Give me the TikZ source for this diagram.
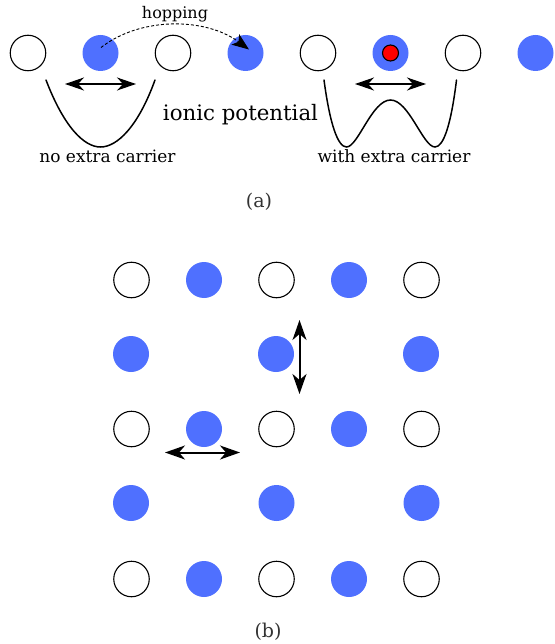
\documentclass[tikz,border=0pt]{standalone}
\usepackage{fontspec}
\setmainfont{DejaVu Serif}
\usetikzlibrary{arrows.meta}
\definecolor{siteblue}{HTML}{4F70FF}
\definecolor{capgray}{HTML}{333333}
\tikzset{
  x=1pt,y=-1pt,
  opensite/.style={circle,draw=black,line width=1.1pt,fill=white,minimum size=35.5pt,inner sep=0pt},
  bluesite/.style={circle,fill=siteblue,minimum size=36pt,inner sep=0pt},
  carrier/.style={circle,draw=black,line width=1.1pt,fill=red,minimum size=16pt,inner sep=0pt},
  dbl/.style={line width=1.2pt,{Stealth[length=19pt,width=13pt,inset=6pt]}-{Stealth[length=19pt,width=13pt,inset=6pt]}},
  dblbold/.style={line width=2pt,{Stealth[length=20pt,width=14pt,inset=6pt]}-{Stealth[length=20pt,width=14pt,inset=6pt]}},
  well/.style={line width=1.5pt,line cap=round},
  lbl/.style={inner sep=0pt,font=\fontsize{17}{19}\selectfont},
  captext/.style={inner sep=0pt,text=capgray,font=\fontsize{19}{22}\selectfont}
}
\begin{document}
\begin{tikzpicture}
\useasboundingbox (0,0) rectangle (554,644);
% chain (a)
\node[opensite] (a1) at (28,53) {};
\node[bluesite] (a2) at (100.5,53) {};
\node[opensite] (a3) at (173,53) {};
\node[bluesite] (a4) at (245.5,53) {};
\node[opensite] (a5) at (318,53) {};
\node[bluesite] (a6) at (390.5,53) {};
\node[carrier] (c) at (390.5,53) {};
\node[opensite] (a7) at (463,53) {};
\node[bluesite] (a8) at (535.5,53) {};
% hopping
\coordinate (hs) at (101,47.5);
\coordinate (he) at (249,49.5);
\draw[densely dashed,line width=0.9pt,-{Stealth[length=17pt,width=13pt,inset=4pt]}] (hs) .. controls (140,17) and (205,17) .. (he);
\node[lbl,font=\fontsize{16}{19}\selectfont] (hop) at (175,14.5) {hopping};
% double arrows
\coordinate (d1a) at (65,84); \coordinate (d1b) at (136,84);
\draw[dbl] (d1a) -- (d1b);
\coordinate (d2a) at (355,84); \coordinate (d2b) at (426,84);
\draw[dbl] (d2a) -- (d2b);
% wells
\draw[well] (46,80) .. controls (64,127) and (84,147) .. (100.5,147) .. controls (117,147) and (138,127) .. (155,80);
\draw[well] (324,80) .. controls (330,125) and (338,147) .. (346.5,147) .. controls (358,147) and (372,100) .. (390.5,100) .. controls (409,100) and (423,147) .. (435,147) .. controls (443.5,147) and (451,125) .. (456.5,80);
\node[inner sep=0pt,font=\fontsize{21.3}{24}\selectfont] (ion) at (240.5,115) {ionic potential};
\node[lbl] (no) at (107.5,156) {no extra carrier};
\node[lbl] (wi) at (394,156) {with extra carrier};
\node[captext] (ca) at (259,202) {(a)};
% lattice (b)
\node[opensite] (g11) at (131.5,280) {};
\node[bluesite] (g12) at (204,280) {};
\node[opensite] (g13) at (276.5,280) {};
\node[bluesite] (g14) at (349,280) {};
\node[opensite] (g15) at (421.5,280) {};
\node[bluesite] (g21) at (131,354) {};
\node[bluesite] (g23) at (276,354) {};
\node[bluesite] (g25) at (421,354) {};
\node[opensite] (g31) at (131.5,429) {};
\node[bluesite] (g32) at (204,429) {};
\node[opensite] (g33) at (276.5,429) {};
\node[bluesite] (g34) at (349,429) {};
\node[opensite] (g35) at (421.5,429) {};
\node[bluesite] (g41) at (131,503) {};
\node[bluesite] (g43) at (276.5,503) {};
\node[bluesite] (g45) at (421.5,503) {};
\node[opensite] (g51) at (131.5,579) {};
\node[bluesite] (g52) at (204,579) {};
\node[opensite] (g53) at (276.5,579) {};
\node[bluesite] (g54) at (349,579) {};
\node[opensite] (g55) at (421.5,579) {};
\coordinate (v1) at (299.5,320); \coordinate (v2) at (299.5,394);
\draw[dblbold] (v1) -- (v2);
\coordinate (h1) at (165,452.5); \coordinate (h2) at (240,452.5);
\draw[dblbold] (h1) -- (h2);
\node[captext] (cb) at (268,632) {(b)};
\end{tikzpicture}
\end{document}
